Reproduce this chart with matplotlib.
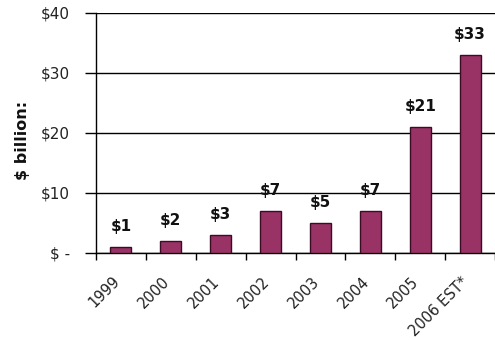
import matplotlib
matplotlib.use('Agg')
import matplotlib.pyplot as plt
import matplotlib.transforms as mtransforms
import numpy as np

years = ['1999', '2000', '2001', '2002', '2003', '2004', '2005', '2006 EST*']
revenue = [1, 2, 3, 7, 5, 7, 21, 33]  # $ billion
yticks = [0, 10, 20, 30, 40]
ytick_labels = ['$ -', '$10', '$20', '$30', '$40']

plt.rcParams['font.family'] = ['DejaVu Sans']

fig = plt.figure(figsize=(4.95, 3.4), dpi=100)
ax = fig.add_axes([0.194, 0.256, 0.806, 0.707])

x = np.arange(len(years))
bars = ax.bar(x, revenue, width=0.42, color='#993366', edgecolor='#3a0d24', linewidth=1.0, zorder=3)

for xi, v in zip(x, revenue):
    ax.annotate('$' + str(v), (xi, v), xytext=(0, 9), textcoords='offset points',
                ha='center', va='bottom', fontsize=11, fontweight='bold', color='#111111')

ax.set_ylim(0, 40)
ax.set_xlim(-0.5, 7.38)
ax.set_yticks(yticks)
ax.set_yticklabels(ytick_labels, fontsize=11, color='#222222')
ax.yaxis.grid(True, color='black', linewidth=1.0, zorder=0)
ax.tick_params(axis='y', length=8, width=1, direction='out', pad=11)

# category labels at bar centers, tick marks between categories
ax.set_xticks(x)
ax.set_xticklabels(years, rotation=45, ha='right', rotation_mode='anchor', fontsize=10.5, color='#222222')
ax.set_xticks(np.arange(-0.5, len(years), 1.0), minor=True)
ax.tick_params(axis='x', which='major', length=0, pad=15)
ax.tick_params(axis='x', which='minor', length=5, width=1, direction='out')
shift = mtransforms.ScaledTranslation(-9 / 100, 0, fig.dpi_scale_trans)
for lbl in ax.get_xticklabels():
    lbl.set_transform(lbl.get_transform() + shift)

for side in ['top', 'right']:
    ax.spines[side].set_visible(False)
ax.spines['left'].set_linewidth(1.0)
ax.spines['bottom'].set_linewidth(1.0)

fig.text(0.046, 0.588, '$ billion:', rotation=90, ha='center', va='center',
         fontsize=11.5, fontweight='bold', color='#111111')

fig.savefig('out.png', dpi=100)
